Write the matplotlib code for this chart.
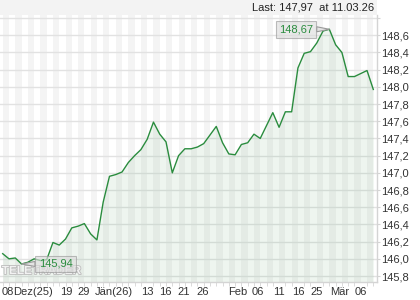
import numpy as np
import matplotlib
matplotlib.use('Agg')
import matplotlib.pyplot as plt
from matplotlib.patches import Rectangle
import matplotlib.patheffects as pe

plt.rcParams['font.family'] = ['Liberation Sans', 'DejaVu Sans']

# closing values, one per trading day (08.12.25 - 11.03.26)
prices = [146.06, 146.00, 146.01, 145.94, 145.96, 146.00, 145.98, 145.99,
          146.19, 146.16, 146.23, 146.36, 146.38, 146.41, 146.29, 146.22,
          146.66, 146.96, 146.98, 147.01, 147.12, 147.20, 147.27, 147.39,
          147.59, 147.45, 147.36, 147.00, 147.20, 147.28, 147.28, 147.30,
          147.34, 147.44, 147.54, 147.35, 147.22, 147.21, 147.33, 147.35,
          147.45, 147.40, 147.55, 147.70, 147.53, 147.71, 147.71, 148.22,
          148.39, 148.41, 148.51, 148.65, 148.67, 148.49, 148.40, 148.12,
          148.12, 148.155, 148.19, 147.97]

tick_pos = [0.85, 4.8, 10.1, 12.95, 17.7, 23.0, 25.9, 28.8, 31.9, 37.4,
            40.65, 44.0, 47.0, 50.0, 53.6, 57.0]
tick_labels = ['08', 'Dez(25)', '19', '29', 'Jän(26)', '13', '16', '21', '26',
               'Feb', '06', '11', '16', '25', 'Mär', '06']

y_ticks = [145.8, 146.0, 146.2, 146.4, 146.6, 146.8, 147.0, 147.2, 147.4,
           147.6, 147.8, 148.0, 148.2, 148.4, 148.6, 148.8]

last_text = 'Last: 147,97  at 11.03.26'

line_col = '#2a8c3e'
grid_col = '#e2e2e2'
text_col = '#333333'

x = np.arange(len(prices))
y = np.array(prices)

fig = plt.figure(figsize=(4.2, 3.0), dpi=100)
ax = fig.add_axes([0.0, 1 - 281.7 / 300, 376.7 / 420, (281.7 - 15) / 300])

# title band
fig.patches.append(Rectangle((0, 0.95), 376.7 / 420, 0.05, transform=fig.transFigure,
                             facecolor='#f3f3f3', edgecolor='none', zorder=0))
fig.text(374 / 420, 1 - 7.5 / 300, last_text, ha='right', va='center',
         fontsize=8, color='#222222')

# alternating day columns
for i in range(0, len(x) - 1, 2):
    ax.axvspan(x[i], x[i + 1], color='#f4f4f4', lw=0, zorder=0)

ax.set_ylim(145.734, 148.836)
ax.set_xlim(-0.43, len(x) - 1 + 0.54)

for v in y_ticks:
    ax.axhline(v, color=grid_col, lw=1.0, zorder=1)

ax.fill_between(x, y, 145.734, color=line_col, alpha=0.08, lw=0, zorder=2)
ax.plot(x, y, color=line_col, lw=1.0, zorder=3)

# watermark (sits under the min label, as in the source)
ax.text(41 / 376.7, (281.7 - 271) / 266.7, 'TELETRADER', transform=ax.transAxes,
        ha='center', va='center', fontsize=8.5, fontweight='bold', color='#f2f2f2',
        zorder=4, path_effects=[pe.withStroke(linewidth=1.2, foreground='#bcbcbc')])

# max / min labels
imax = int(np.argmax(y))
imin = int(np.argmin(y))
box = dict(boxstyle='square,pad=0.3', fc='#dedede', ec='#9a9a9a', lw=0.8, alpha=0.65)
ax.annotate('148,67', xy=(x[imax], y[imax]), xytext=(-24, 0),
            textcoords='offset points', ha='center', va='center',
            fontsize=8, color=line_col, bbox=box, zorder=6,
            arrowprops=dict(arrowstyle='wedge,tail_width=0.45', fc='#e4e4e4',
                            ec='#9a9a9a', lw=0.8, shrinkA=0, shrinkB=0))
ax.annotate('145,94', xy=(x[imin], y[imin]), xytext=(24.5, 0),
            textcoords='offset points', ha='center', va='center',
            fontsize=8, color=line_col, bbox=box, zorder=6,
            arrowprops=dict(arrowstyle='wedge,tail_width=0.45', fc='#e4e4e4',
                            ec='#9a9a9a', lw=0.8, shrinkA=0, shrinkB=0))

# axes styling
for s in ['top', 'left']:
    ax.spines[s].set_visible(False)
for s in ['right', 'bottom']:
    ax.spines[s].set_color('#d4d4d4')
    ax.spines[s].set_linewidth(1.0)

ax.yaxis.tick_right()
ax.set_yticks(y_ticks)
ax.set_yticklabels([('%.1f' % v).replace('.', ',') if v < 148.7 else '' for v in y_ticks])
ax.tick_params(axis='y', length=2, color='#d4d4d4', pad=1.5, labelsize=8,
               labelcolor=text_col)

ax.set_xticks(tick_pos)
ax.set_xticklabels(tick_labels)
ax.set_xticks(x, minor=True)
ax.tick_params(axis='x', which='major', length=0, pad=4, labelsize=8, labelcolor=text_col)
ax.tick_params(axis='x', which='minor', length=3, color='#d4d4d4')

fig.savefig('out.png', dpi=100)
